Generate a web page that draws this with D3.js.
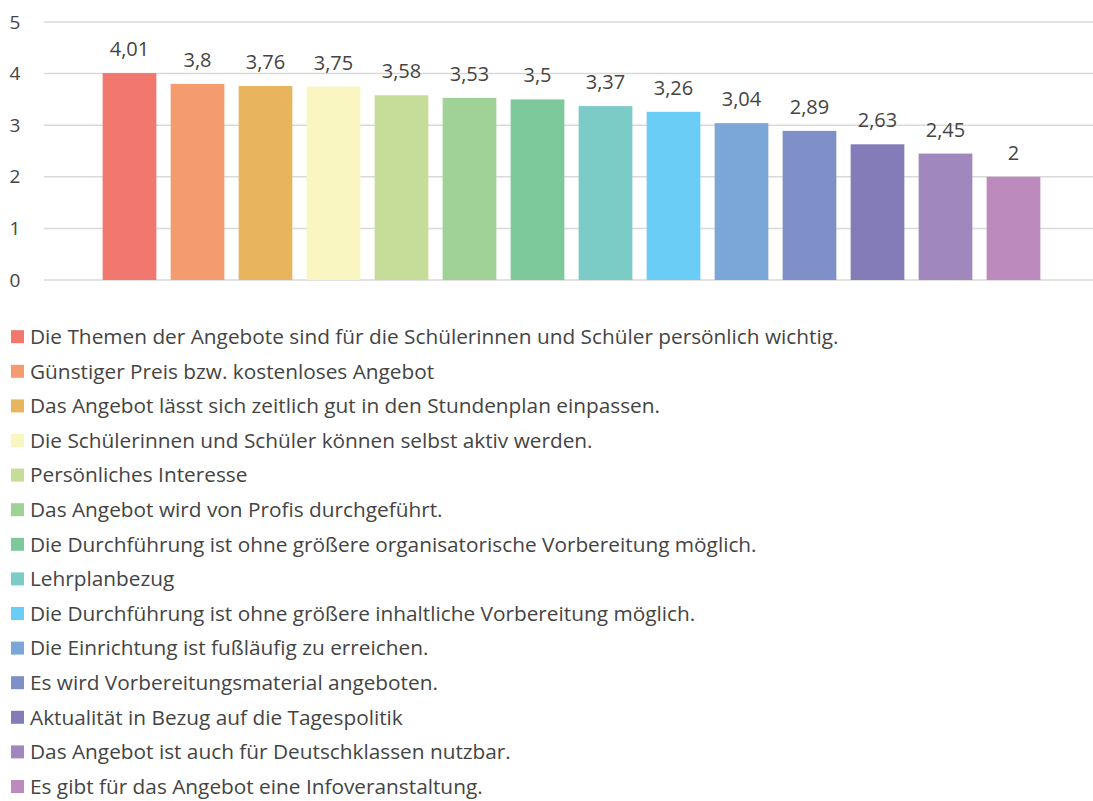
<!DOCTYPE html>
<html>
<head>
<meta charset="utf-8">
<script src="https://cdn.jsdelivr.net/npm/d3@7"></script>
<style>
  html, body { margin: 0; padding: 0; background: #fff; }
  svg { display: block; }
  text { font-family: "Open Sans", "Noto Sans", sans-serif; fill: #444; }
</style>
</head>
<body>
<svg id="chart" width="1093" height="801"></svg>
<script>
// Ratings of criteria for choosing an offer (mean score, 0–5)
const categories = [
  "Die Themen der Angebote sind für die Schülerinnen und Schüler persönlich wichtig.",
  "Günstiger Preis bzw. kostenloses Angebot",
  "Das Angebot lässt sich zeitlich gut in den Stundenplan einpassen.",
  "Die Schülerinnen und Schüler können selbst aktiv werden.",
  "Persönliches Interesse",
  "Das Angebot wird von Profis durchgeführt.",
  "Die Durchführung ist ohne größere organisatorische Vorbereitung möglich.",
  "Lehrplanbezug",
  "Die Durchführung ist ohne größere inhaltliche Vorbereitung möglich.",
  "Die Einrichtung ist fußläufig zu erreichen.",
  "Es wird Vorbereitungsmaterial angeboten.",
  "Aktualität in Bezug auf die Tagespolitik",
  "Das Angebot ist auch für Deutschklassen nutzbar.",
  "Es gibt für das Angebot eine Infoveranstaltung."
];
const values = [4.01, 3.8, 3.76, 3.75, 3.58, 3.53, 3.5, 3.37, 3.26, 3.04, 2.89, 2.63, 2.45, 2];
const colors = [
  "#F2776F", "#F59B70", "#E8B55E", "#FAF6C2", "#C5DD98", "#A0D297", "#7DC99B",
  "#7BCBC6", "#6ACDF5", "#7AA6D8", "#7F8FC7", "#837CB9", "#A088BE", "#BC8ABD"
];
const yTicks = [0, 1, 2, 3, 4, 5];

const svg = d3.select("#chart");
const plot = { left: 44, right: 1093, top: 22, bottom: 280 };

const y = d3.scaleLinear().domain([0, 5]).range([plot.bottom, plot.top]);
const x = d3.scaleBand()
  .domain(d3.range(categories.length))
  .range([95.5, 1047.5])
  .paddingInner(0.21)
  .paddingOuter(0.105);

const fmt = v => String(v).replace(".", ",");

// Horizontal gridlines
svg.append("g")
  .selectAll("line")
  .data(yTicks)
  .join("line")
  .attr("x1", plot.left).attr("x2", plot.right)
  .attr("y1", d => y(d)).attr("y2", d => y(d))
  .attr("stroke", "#d9d9d9").attr("stroke-width", 1.5);

// Y axis tick labels
const yAxis = d3.axisLeft(y).tickValues(yTicks).tickSize(0).tickPadding(0).tickFormat(d3.format("d"));
const gy = svg.append("g").attr("transform", "translate(20,0)").call(yAxis);
gy.select(".domain").remove();
gy.selectAll("text")
  .attr("text-anchor", "middle")
  .attr("x", -5)
  .style("font-family", "\"Open Sans\", \"Noto Sans\", sans-serif")
  .style("font-size", "19px")
  .style("fill", "#444");

// Bars
svg.append("g")
  .selectAll("rect")
  .data(values)
  .join("rect")
  .attr("x", (d, i) => x(i))
  .attr("width", x.bandwidth())
  .attr("y", d => y(d))
  .attr("height", d => y(0) - y(d))
  .attr("fill", (d, i) => colors[i]);

// Value labels
svg.append("g")
  .selectAll("text")
  .data(values)
  .join("text")
  .attr("x", (d, i) => x(i) + x.bandwidth() / 2)
  .attr("y", d => y(d) - 17)
  .attr("text-anchor", "middle")
  .style("font-size", "20px")
  .text(d => fmt(d));

// Legend
const legend = svg.append("g").attr("transform", "translate(11,0)");
const rowY = i => 336.7 + i * 34.6;
const rows = legend.selectAll("g")
  .data(categories)
  .join("g")
  .attr("transform", (d, i) => `translate(0,${rowY(i)})`);
rows.append("rect")
  .attr("x", 0).attr("y", -6.5)
  .attr("width", 13).attr("height", 13)
  .attr("fill", (d, i) => colors[i]);
rows.append("text")
  .attr("x", 19)
  .attr("dy", "0.35em")
  .style("font-size", "20.8px")
  .text(d => d);
</script>
</body>
</html>
